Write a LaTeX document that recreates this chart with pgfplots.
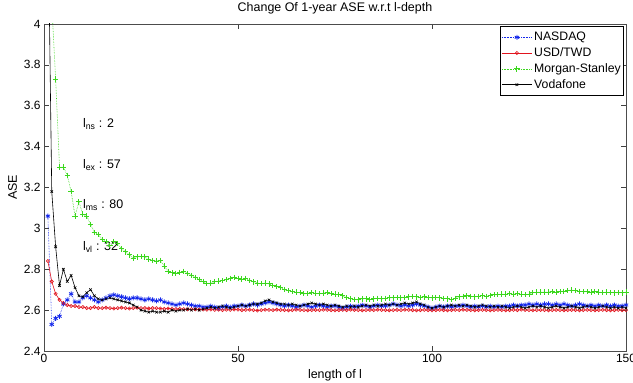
\documentclass[border=0pt]{standalone}
\usepackage{pgfplots}
\pgfplotsset{compat=1.18}
\usepackage{pgfplotstable}
\usepackage{fontspec}
\setmainfont{Liberation Sans}
\definecolor{mblue}{RGB}{20,40,235}
\definecolor{mred}{RGB}{225,20,30}
\definecolor{mgreen}{RGB}{60,215,30}

\pgfplotstableread[row sep=\\]{
x y\\
1 3.06\\ 2 2.53\\ 3 2.56\\ 4 2.57\\ 5 2.63\\ 6 2.65\\ 7 2.68\\ 8 2.64\\ 9 2.64\\ 10 2.66\\
11 2.67\\ 12 2.66\\ 13 2.65\\ 14 2.64\\ 15 2.65\\ 16 2.66\\ 17 2.67\\ 18 2.675\\ 19 2.67\\ 20 2.665\\
21 2.66\\ 22 2.655\\ 23 2.66\\ 24 2.66\\ 25 2.655\\ 26 2.65\\ 27 2.655\\ 28 2.65\\ 29 2.645\\ 30 2.65\\
31 2.64\\ 32 2.635\\ 33 2.63\\ 34 2.625\\ 35 2.63\\ 36 2.635\\ 37 2.63\\ 38 2.625\\ 39 2.62\\ 40 2.62\\
41 2.615\\ 42 2.615\\ 43 2.62\\ 44 2.615\\ 45 2.61\\ 46 2.615\\ 47 2.62\\ 48 2.615\\ 49 2.62\\ 50 2.62\\
51 2.625\\ 52 2.62\\ 53 2.625\\ 54 2.63\\ 55 2.625\\ 56 2.63\\ 57 2.635\\ 58 2.64\\ 59 2.635\\ 60 2.63\\
61 2.625\\ 62 2.62\\ 63 2.625\\ 64 2.62\\ 65 2.615\\ 66 2.62\\ 67 2.625\\ 68 2.62\\ 69 2.615\\ 70 2.62\\
71 2.625\\ 72 2.62\\ 73 2.615\\ 74 2.62\\ 75 2.62\\ 76 2.615\\ 77 2.61\\ 78 2.615\\ 79 2.62\\ 80 2.615\\
81 2.62\\ 82 2.625\\ 83 2.62\\ 84 2.615\\ 85 2.62\\ 86 2.625\\ 87 2.62\\ 88 2.62\\ 89 2.625\\ 90 2.63\\
91 2.625\\ 92 2.62\\ 93 2.625\\ 94 2.62\\ 95 2.625\\ 96 2.63\\ 97 2.625\\ 98 2.62\\ 99 2.615\\ 100 2.61\\
101 2.615\\ 102 2.62\\ 103 2.615\\ 104 2.62\\ 105 2.615\\ 106 2.62\\ 107 2.62\\ 108 2.625\\ 109 2.62\\ 110 2.615\\
111 2.62\\ 112 2.615\\ 113 2.62\\ 114 2.615\\ 115 2.62\\ 116 2.615\\ 117 2.62\\ 118 2.615\\ 119 2.62\\ 120 2.62\\
121 2.625\\ 122 2.62\\ 123 2.625\\ 124 2.625\\ 125 2.63\\ 126 2.625\\ 127 2.63\\ 128 2.625\\ 129 2.63\\ 130 2.63\\
131 2.625\\ 132 2.63\\ 133 2.625\\ 134 2.63\\ 135 2.625\\ 136 2.62\\ 137 2.625\\ 138 2.63\\ 139 2.625\\ 140 2.62\\
141 2.625\\ 142 2.62\\ 143 2.625\\ 144 2.62\\ 145 2.625\\ 146 2.62\\ 147 2.625\\ 148 2.62\\ 149 2.62\\ 150 2.625\\
}\nasdaq

\pgfplotstableread[row sep=\\]{
x y\\
1 2.84\\ 2 2.74\\ 3 2.68\\ 4 2.65\\ 5 2.635\\ 6 2.625\\ 7 2.62\\ 8 2.62\\ 9 2.615\\ 10 2.615\\
11 2.61\\ 12 2.61\\ 13 2.615\\ 14 2.61\\ 15 2.61\\ 16 2.612\\ 17 2.61\\ 18 2.608\\ 19 2.61\\ 20 2.612\\
21 2.61\\ 22 2.608\\ 23 2.61\\ 24 2.612\\ 25 2.61\\ 26 2.61\\ 27 2.608\\ 28 2.61\\ 29 2.61\\ 30 2.608\\
31 2.606\\ 32 2.608\\ 33 2.606\\ 34 2.605\\ 35 2.606\\ 36 2.605\\ 37 2.604\\ 38 2.605\\ 39 2.604\\ 40 2.603\\
41 2.603\\ 42 2.602\\ 43 2.603\\ 44 2.601\\ 45 2.602\\ 46 2.600\\ 47 2.602\\ 48 2.601\\ 49 2.603\\ 50 2.602\\
51 2.600\\ 52 2.601\\ 53 2.602\\ 54 2.600\\ 55 2.598\\ 56 2.600\\ 57 2.602\\ 58 2.601\\ 59 2.600\\ 60 2.602\\
61 2.601\\ 62 2.600\\ 63 2.599\\ 64 2.600\\ 65 2.602\\ 66 2.601\\ 67 2.600\\ 68 2.599\\ 69 2.600\\ 70 2.601\\
71 2.600\\ 72 2.602\\ 73 2.601\\ 74 2.600\\ 75 2.599\\ 76 2.600\\ 77 2.601\\ 78 2.600\\ 79 2.602\\ 80 2.601\\
81 2.600\\ 82 2.599\\ 83 2.600\\ 84 2.601\\ 85 2.600\\ 86 2.602\\ 87 2.601\\ 88 2.600\\ 89 2.599\\ 90 2.600\\
91 2.601\\ 92 2.600\\ 93 2.602\\ 94 2.601\\ 95 2.600\\ 96 2.599\\ 97 2.600\\ 98 2.601\\ 99 2.600\\ 100 2.599\\
101 2.600\\ 102 2.601\\ 103 2.600\\ 104 2.599\\ 105 2.600\\ 106 2.601\\ 107 2.600\\ 108 2.602\\ 109 2.601\\ 110 2.600\\
111 2.599\\ 112 2.600\\ 113 2.601\\ 114 2.600\\ 115 2.599\\ 116 2.600\\ 117 2.601\\ 118 2.600\\ 119 2.599\\ 120 2.600\\
121 2.601\\ 122 2.600\\ 123 2.602\\ 124 2.601\\ 125 2.600\\ 126 2.599\\ 127 2.600\\ 128 2.601\\ 129 2.600\\ 130 2.599\\
131 2.600\\ 132 2.601\\ 133 2.600\\ 134 2.599\\ 135 2.600\\ 136 2.601\\ 137 2.600\\ 138 2.599\\ 139 2.600\\ 140 2.601\\
141 2.600\\ 142 2.599\\ 143 2.600\\ 144 2.601\\ 145 2.600\\ 146 2.599\\ 147 2.600\\ 148 2.601\\ 149 2.600\\ 150 2.600\\
}\usdtwd

\pgfplotstableread[row sep=\\]{
x y\\
1 4.8\\ 2 4.1\\ 3 3.73\\ 4 3.30\\ 5 3.30\\ 6 3.26\\ 7 3.18\\ 8 3.06\\ 9 3.13\\ 10 3.07\\
11 3.06\\ 12 3.02\\ 13 2.98\\ 14 2.97\\ 15 2.945\\ 16 2.935\\ 17 2.915\\ 18 2.935\\ 19 2.925\\ 20 2.90\\
21 2.885\\ 22 2.87\\ 23 2.855\\ 24 2.86\\ 25 2.862\\ 26 2.86\\ 27 2.85\\ 28 2.842\\ 29 2.84\\ 30 2.842\\
31 2.815\\ 32 2.79\\ 33 2.782\\ 34 2.78\\ 35 2.785\\ 36 2.79\\ 37 2.78\\ 38 2.77\\ 39 2.76\\ 40 2.75\\
41 2.74\\ 42 2.73\\ 43 2.732\\ 44 2.74\\ 45 2.742\\ 46 2.745\\ 47 2.75\\ 48 2.755\\ 49 2.76\\ 50 2.755\\
51 2.752\\ 52 2.755\\ 53 2.745\\ 54 2.738\\ 55 2.732\\ 56 2.73\\ 57 2.732\\ 58 2.728\\ 59 2.72\\ 60 2.715\\
61 2.71\\ 62 2.70\\ 63 2.695\\ 64 2.69\\ 65 2.688\\ 66 2.685\\ 67 2.68\\ 68 2.682\\ 69 2.685\\ 70 2.683\\
71 2.68\\ 72 2.683\\ 73 2.685\\ 74 2.68\\ 75 2.678\\ 76 2.675\\ 77 2.67\\ 78 2.662\\ 79 2.655\\ 80 2.652\\
81 2.65\\ 82 2.655\\ 83 2.655\\ 84 2.652\\ 85 2.655\\ 86 2.658\\ 87 2.655\\ 88 2.658\\ 89 2.66\\ 90 2.66\\
91 2.662\\ 92 2.66\\ 93 2.662\\ 94 2.665\\ 95 2.668\\ 96 2.665\\ 97 2.662\\ 98 2.665\\ 99 2.662\\ 100 2.66\\
101 2.662\\ 102 2.66\\ 103 2.658\\ 104 2.655\\ 105 2.652\\ 106 2.658\\ 107 2.665\\ 108 2.668\\ 109 2.67\\ 110 2.668\\
111 2.665\\ 112 2.668\\ 113 2.67\\ 114 2.668\\ 115 2.672\\ 116 2.675\\ 117 2.675\\ 118 2.678\\ 119 2.678\\ 120 2.68\\
121 2.678\\ 122 2.68\\ 123 2.678\\ 124 2.675\\ 125 2.678\\ 126 2.685\\ 127 2.688\\ 128 2.688\\ 129 2.688\\ 130 2.688\\
131 2.69\\ 132 2.688\\ 133 2.69\\ 134 2.692\\ 135 2.695\\ 136 2.698\\ 137 2.695\\ 138 2.692\\ 139 2.69\\ 140 2.69\\
141 2.688\\ 142 2.69\\ 143 2.688\\ 144 2.686\\ 145 2.688\\ 146 2.686\\ 147 2.684\\ 148 2.686\\ 149 2.684\\ 150 2.688\\
}\morgan

\pgfplotstableread[row sep=\\]{
x y\\
1 4.6\\ 2 3.18\\ 3 2.91\\ 4 2.72\\ 5 2.80\\ 6 2.74\\ 7 2.77\\ 8 2.71\\ 9 2.67\\ 10 2.665\\
11 2.685\\ 12 2.70\\ 13 2.67\\ 14 2.655\\ 15 2.65\\ 16 2.655\\ 17 2.66\\ 18 2.655\\ 19 2.65\\ 20 2.645\\
21 2.64\\ 22 2.635\\ 23 2.625\\ 24 2.615\\ 25 2.60\\ 26 2.595\\ 27 2.59\\ 28 2.595\\ 29 2.59\\ 30 2.59\\
31 2.595\\ 32 2.59\\ 33 2.60\\ 34 2.595\\ 35 2.60\\ 36 2.60\\ 37 2.605\\ 38 2.60\\ 39 2.605\\ 40 2.60\\
41 2.605\\ 42 2.61\\ 43 2.615\\ 44 2.61\\ 45 2.615\\ 46 2.62\\ 47 2.615\\ 48 2.61\\ 49 2.615\\ 50 2.62\\
51 2.625\\ 52 2.62\\ 53 2.625\\ 54 2.63\\ 55 2.63\\ 56 2.635\\ 57 2.645\\ 58 2.65\\ 59 2.64\\ 60 2.635\\
61 2.63\\ 62 2.63\\ 63 2.625\\ 64 2.63\\ 65 2.625\\ 66 2.62\\ 67 2.625\\ 68 2.63\\ 69 2.635\\ 70 2.63\\
71 2.625\\ 72 2.63\\ 73 2.625\\ 74 2.62\\ 75 2.625\\ 76 2.62\\ 77 2.615\\ 78 2.62\\ 79 2.615\\ 80 2.62\\
81 2.615\\ 82 2.62\\ 83 2.625\\ 84 2.62\\ 85 2.625\\ 86 2.62\\ 87 2.625\\ 88 2.63\\ 89 2.625\\ 90 2.63\\
91 2.625\\ 92 2.63\\ 93 2.635\\ 94 2.63\\ 95 2.635\\ 96 2.64\\ 97 2.63\\ 98 2.625\\ 99 2.615\\ 100 2.61\\
101 2.615\\ 102 2.62\\ 103 2.615\\ 104 2.62\\ 105 2.625\\ 106 2.62\\ 107 2.625\\ 108 2.62\\ 109 2.625\\ 110 2.62\\
111 2.615\\ 112 2.62\\ 113 2.625\\ 114 2.62\\ 115 2.615\\ 116 2.62\\ 117 2.615\\ 118 2.62\\ 119 2.615\\ 120 2.61\\
121 2.615\\ 122 2.62\\ 123 2.615\\ 124 2.61\\ 125 2.615\\ 126 2.62\\ 127 2.615\\ 128 2.62\\ 129 2.615\\ 130 2.61\\
131 2.615\\ 132 2.62\\ 133 2.615\\ 134 2.61\\ 135 2.615\\ 136 2.62\\ 137 2.615\\ 138 2.61\\ 139 2.615\\ 140 2.62\\
141 2.615\\ 142 2.61\\ 143 2.615\\ 144 2.62\\ 145 2.615\\ 146 2.61\\ 147 2.615\\ 148 2.61\\ 149 2.615\\ 150 2.61\\
}\vodafone

\begin{document}
\begin{tikzpicture}
\begin{axis}[
  scale only axis,
  width=582bp, height=327bp,
  xmin=0, xmax=150, ymin=2.4, ymax=4,
  xtick={0,50,100,150},
  ytick={2.4,2.6,2.8,3,3.2,3.4,3.6,3.8,4},
  tick align=inside,
  major tick length=5bp,
  tick style={black!75, line width=0.5bp},
  axis line style={black!70, line width=0.6bp},
  /pgf/number format/assume math mode=true,
  tick label style={font=\fontsize{12}{13}\selectfont},
  label style={font=\fontsize{12.5}{13}\selectfont},
  title style={font=\fontsize{12.5}{13}\selectfont},
  title={Change Of 1-year ASE w.r.t l-depth},
  xlabel={length of l},
  ylabel={ASE},
  legend cell align=left,
  legend style={at={(1,1)}, anchor=north east, xshift=-2bp, yshift=-2.5bp,
    draw=black, line width=0.6bp, font=\fontsize{12.3}{13}\selectfont,
    inner xsep=1bp, inner ysep=3.5bp, row sep=1.5bp},
  legend image code/.code={\draw[mark repeat=2,mark phase=2] plot coordinates {(0bp,0bp) (15bp,0bp) (30bp,0bp)};},
]
\addplot[mblue, densely dotted, line width=0.6bp, mark=asterisk, mark size=2.5bp, mark options={solid, line width=0.8bp}] table {\nasdaq};
\addlegendentry{NASDAQ}
\addplot[mred, solid, line width=0.6bp, mark=o, mark size=1.6bp, mark options={solid, line width=0.6bp}] table {\usdtwd};
\addlegendentry{USD/TWD}
\addplot[mgreen, densely dotted, line width=0.6bp, mark=+, mark size=2.7bp, mark options={solid, line width=1bp}] table {\morgan};
\addlegendentry{Morgan-Stanley}
\addplot[black, solid, line width=0.6bp, mark=x, mark size=1.8bp, mark options={solid, line width=0.6bp}] table {\vodafone};
\addlegendentry{Vodafone}
\node[anchor=west, inner sep=0pt, font=\fontsize{12.5}{13}\selectfont] at (axis cs:10,3.51) {l\textsubscript{ns} : 2};
\node[anchor=west, inner sep=0pt, font=\fontsize{12.5}{13}\selectfont] at (axis cs:10,3.31) {l\textsubscript{ex} : 57};
\node[anchor=west, inner sep=0pt, font=\fontsize{12.5}{13}\selectfont] at (axis cs:10,3.115) {l\textsubscript{ms} : 80};
\node[anchor=west, inner sep=0pt, font=\fontsize{12.5}{13}\selectfont] at (axis cs:10,2.91) {l\textsubscript{vl} : 32};
\end{axis}
\pgfresetboundingbox
\path[use as bounding box] ([shift={(-44bp,-32bp)}]current axis.south west) rectangle ([shift={(7bp,24bp)}]current axis.north east);
\end{tikzpicture}
\end{document}
